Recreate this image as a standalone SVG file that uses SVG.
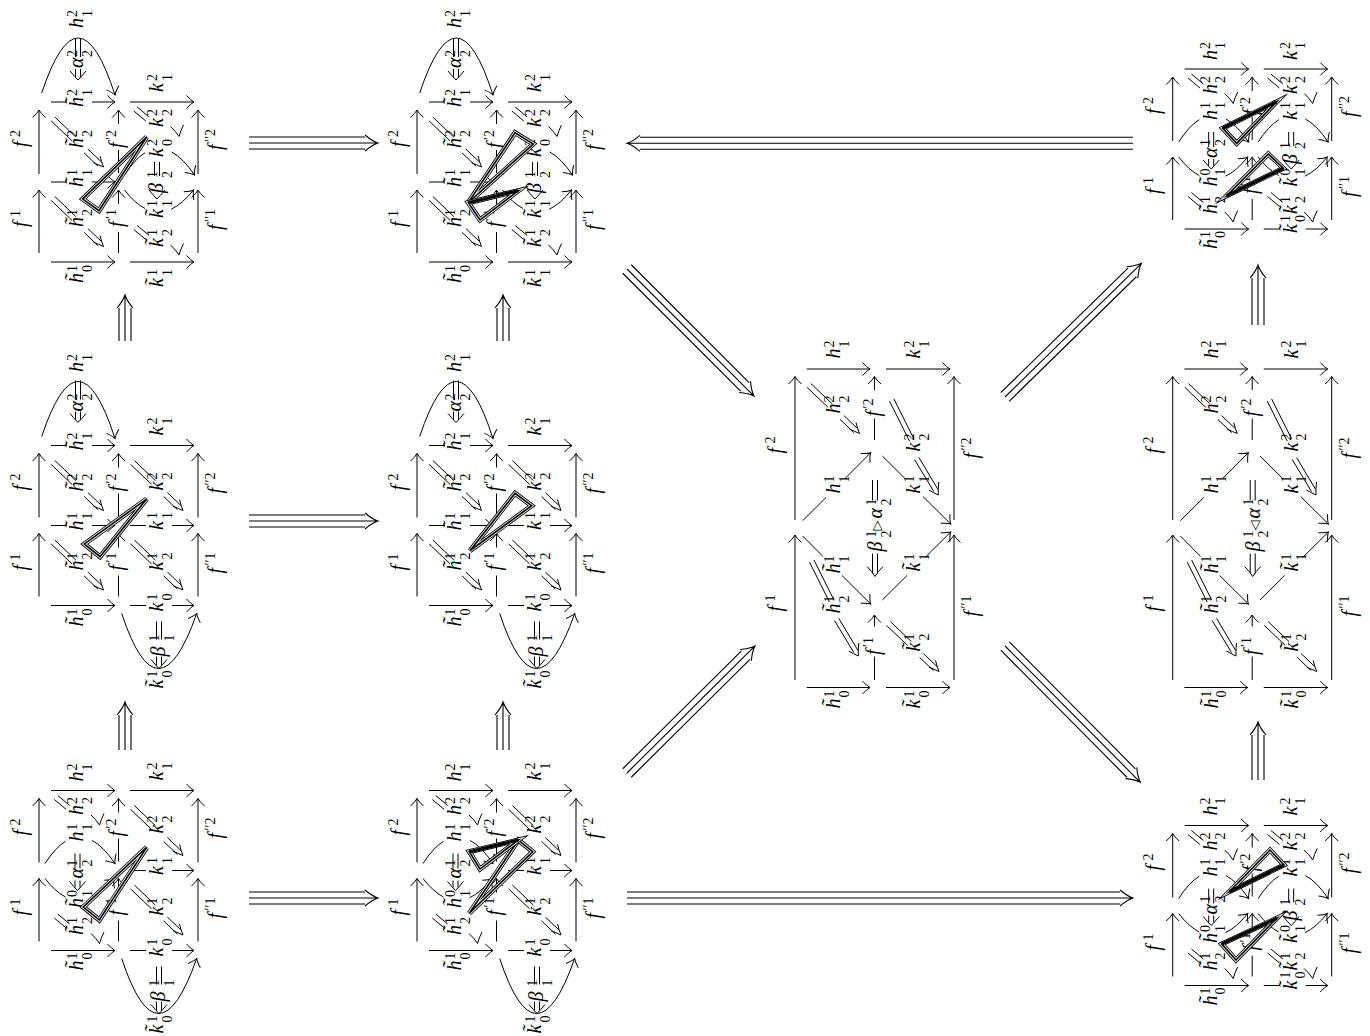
<svg xmlns="http://www.w3.org/2000/svg" width="1370" height="1036" viewBox="0 0 1370 1036">
<style>
.l,.a,.h{fill:none;stroke:#000;stroke-width:1}
.a{marker-end:url(#to)}
.t{fill:none;stroke:#000;stroke-width:1.1}
.t1,.t2,.t3{fill:none;stroke-linejoin:miter;stroke-miterlimit:6}
.t1{stroke:#000;stroke-width:5}
.t2{stroke:#ddd;stroke-width:3.4}
.t3{stroke:#000;stroke-width:1.5}
.k{fill:none;stroke:#000;stroke-width:3.2}
text{font-family:"Liberation Serif","DejaVu Serif",serif;font-size:20px;font-style:italic;fill:#000}
.s{font-size:14px;font-style:normal}
.o{font-family:"DejaVu Sans",sans-serif;font-size:13px;font-style:normal}
</style>
<defs>
<marker id="to" markerUnits="userSpaceOnUse" orient="auto" markerWidth="20" markerHeight="20" refX="10" refY="10" viewBox="0 0 20 20" overflow="visible"><path transform="translate(10,10)" d="M-7.5,-6.5Q-3,-1.5 0,0Q-3,1.5 -7.5,6.5" fill="none" stroke="#000" stroke-width="1"/></marker>
<g id="fr">
<path class="a" d="M0,71V8"/><path class="a" d="M0,-8V-72"/>
<path class="l" d="M79.5,71V50M79.5,-9V-32"/><path class="a" d="M79.5,22V8"/><path class="a" d="M79.5,-58V-72"/>
<path class="a" d="M159,71V8"/><path class="a" d="M159,-8V-72"/>
</g>
<g id="r1"><path class="a" d="M12,0H76"/></g>
<g id="r2"><path class="a" d="M91,0H155"/></g>
<g id="b1"><path class="l" d="M12,0H28"/><path class="a" d="M53,0H76"/></g>
<g id="b2"><path class="l" d="M91,0H107"/><path class="a" d="M133,0H155"/></g>
<g id="ln"><path class="l" d="M6,-7Q16.2,-22.9 26.6,-29.3"/><path class="a" d="M53.2,-30Q64.5,-24 76,-7"/><path class="l" d="M6,8Q16.2,21.2 26.5,26.5"/><path class="a" d="M52.7,27.2Q63.8,22.1 75,8"/></g>
<path id="dA" class="h" d="M15.9,-64.9L36.9,-44.9M12.1,-61.1L33.1,-41.1M48.9,-32.9L62.5,-20M45.1,-29.1L59,-15.8M54.5,-19.3Q60,-17 64.5,-15Q62.5,-20 61,-26"/>
<path id="dS" class="h" d="M18.7,-75L30.7,-65M15.3,-71L27.3,-61M52,-55.5Q57,-51 60.5,-45.5Q62,-51 65,-57"/>
<path id="dL" class="h" d="M98.9,-129.6L118.9,-89.6M94.5,-127.4L114.5,-87.4M123.9,-71L143,-39M119.5,-69L138.8,-37M133.8,-38.5Q138,-36 143.3,-33.5Q143,-40 143.8,-46.5"/>
<path id="dT" class="h" d="M-2.5,-42V-23M2.5,-42V-23M-2.5,-11V-3M2.5,-11V-3M-8,-9Q-3,-3 0,0Q3,-3 8,-9"/>
<path id="dN" class="h" d="M-2.5,-37V-22M2.5,-37V-22M-2.5,-10V-3M2.5,-10V-3M-8,-9Q-3,-3 0,0Q3,-3 8,-9"/>
<path id="dB" class="h" d="M-2.5,-37V-23M2.5,-37V-23M-8,-9Q-3,-3 0,0Q3,-3 8,-9"/>
<path id="dU" class="h" d="M-2.5,-47V-29M2.5,-47V-29M-2.5,-12V-3M2.5,-12V-3M-8,-9Q-3,-3 0,0Q3,-3 8,-9"/>
<g id="fB">
<path class="a" d="M0,151.5V6.5"/><path class="a" d="M0,-8.5V-152"/>
<path class="l" d="M79.5,151.5V128M79.5,-88.5V-110"/><path class="a" d="M79.5,98V86.5"/><path class="a" d="M79.5,-138.5V-152"/>
<path class="a" d="M159,151.5V6.5"/><path class="a" d="M159,-8.5V-152"/>
<path class="a" d="M11.7,-159.5H75"/><path class="a" d="M91,-159.5H155"/><path class="a" d="M11.7,159H75"/><path class="a" d="M91,159H155"/>
<path class="l" d="M7.7,-7.8L31,-31"/><path class="a" d="M50,-50L75.7,-75.8"/>
<path class="l" d="M87.3,-72.5L110,-50"/><path class="a" d="M128,-32L155.7,-4.5"/>
<path class="l" d="M7.7,7.5L28,28"/><path class="a" d="M47,47L75.7,75.5"/>
<path class="l" d="M87.3,71.5L112,47"/><path class="a" d="M130,29L155.7,3.5"/>
<use href="#dA" y="-80"/><use href="#dA" x="79.5" y="158"/><use href="#dL"/><use href="#dL" x="-80" y="161"/>
<path class="h" d="M77.5,-48.5V-28M82.5,-48.5V-28M77.5,25V45M82.5,25V45M72,38Q77,43 80,48Q83,43 88,38"/>
</g>
</defs>

<g id="panel-a1" transform="translate(39,182)">
<g class="edges"><use href="#fr"/><use href="#b1" y="-80"/><use href="#r2" y="-80"/><path class="a" d="M2.7,-89Q39.7,-200 76,-87"/><use href="#dT" x="39" y="-102"/><use href="#b1"/><use href="#r1" y="80"/><use href="#r2" y="80"/><use href="#dA"/><use href="#dA" y="79.5"/><use href="#ln" x="79.5"/><use href="#dB" x="118" y="17"/><use href="#dS" x="79.5"/><use href="#dS" x="79.5" y="118.5"/></g>
<g class="labels">
<text transform="translate(-12.5,-35) rotate(-90)">f<tspan class="s" x="10" y="-7">2</tspan></text>
<text transform="translate(-12.5,45) rotate(-90)">f<tspan class="s" x="10" y="-7">1</tspan></text>
<text transform="translate(84,-34) rotate(-90)">f<tspan class="s" x="8" y="-7">′2</tspan></text>
<text transform="translate(84,45) rotate(-90)">f<tspan class="s" x="8" y="-7">′1</tspan></text>
<text transform="translate(183,-32) rotate(-90)">f<tspan class="s" x="8" y="-7">′′2</tspan></text>
<text transform="translate(183,48) rotate(-90)">f<tspan class="s" x="8" y="-7">′′1</tspan></text>
<text transform="translate(44,-154) rotate(-90)">h<tspan class="s" x="11" y="-6.5">2</tspan><tspan class="s" x="11" y="8.5">1</tspan></text>
<text transform="translate(44,-114) rotate(-90)">α<tspan class="s" x="11" y="-6.5">2</tspan><tspan class="s" x="11" y="8.5">2</tspan></text>
<text transform="translate(44,-75) rotate(-90)">h̃<tspan class="s" x="11" y="-6.5">2</tspan><tspan class="s" x="11" y="8.5">1</tspan></text>
<text transform="translate(44,-34) rotate(-90)">h̃<tspan class="s" x="11" y="-6.5">2</tspan><tspan class="s" x="11" y="8.5">2</tspan></text>
<text transform="translate(44,5) rotate(-90)">h̃<tspan class="s" x="11" y="-6.5">1</tspan><tspan class="s" x="11" y="8.5">1</tspan></text>
<text transform="translate(44,45) rotate(-90)">h̃<tspan class="s" x="11" y="-6.5">1</tspan><tspan class="s" x="11" y="8.5">2</tspan></text>
<text transform="translate(44,101) rotate(-90)">h̃<tspan class="s" x="11" y="-6.5">1</tspan><tspan class="s" x="11" y="8.5">0</tspan></text>
<text transform="translate(124,-90) rotate(-90)">k<tspan class="s" x="11" y="-6.5">2</tspan><tspan class="s" x="11" y="8.5">1</tspan></text>
<text transform="translate(124,-55) rotate(-90)">k<tspan class="s" x="11" y="-6.5">2</tspan><tspan class="s" x="11" y="8.5">2</tspan></text>
<text transform="translate(124,-25) rotate(-90)">k<tspan class="s" x="11" y="-6.5">2</tspan><tspan class="s" x="11" y="8.5">0</tspan></text>
<text transform="translate(124,11) rotate(-90)">β<tspan class="s" x="15" y="-6.5">1</tspan><tspan class="s" x="15" y="8.5">2</tspan></text>
<text transform="translate(124,36) rotate(-90)">k̃<tspan class="s" x="11" y="-6.5">1</tspan><tspan class="s" x="11" y="8.5">1</tspan></text>
<text transform="translate(124,65) rotate(-90)">k̃<tspan class="s" x="11" y="-6.5">1</tspan><tspan class="s" x="11" y="8.5">2</tspan></text>
<text transform="translate(124,105) rotate(-90)">k̃<tspan class="s" x="11" y="-6.5">1</tspan><tspan class="s" x="11" y="8.5">1</tspan></text>
</g>
</g>

<g id="panel-b1" transform="translate(417,182)">
<g class="edges"><use href="#fr"/><use href="#b1" y="-80"/><use href="#r2" y="-80"/><path class="a" d="M2.7,-89Q39.7,-200 76,-87"/><use href="#dT" x="39" y="-102"/><use href="#b1"/><use href="#r1" y="80"/><use href="#r2" y="80"/><use href="#dA"/><use href="#dA" y="79.5"/><use href="#ln" x="79.5"/><use href="#dB" x="118" y="17"/><use href="#dS" x="79.5"/><use href="#dS" x="79.5" y="118.5"/></g>
<g class="labels">
<text transform="translate(-12.5,-35) rotate(-90)">f<tspan class="s" x="10" y="-7">2</tspan></text>
<text transform="translate(-12.5,45) rotate(-90)">f<tspan class="s" x="10" y="-7">1</tspan></text>
<text transform="translate(84,-34) rotate(-90)">f<tspan class="s" x="8" y="-7">′2</tspan></text>
<text transform="translate(84,45) rotate(-90)">f<tspan class="s" x="8" y="-7">′1</tspan></text>
<text transform="translate(183,-32) rotate(-90)">f<tspan class="s" x="8" y="-7">′′2</tspan></text>
<text transform="translate(183,48) rotate(-90)">f<tspan class="s" x="8" y="-7">′′1</tspan></text>
<text transform="translate(44,-154) rotate(-90)">h<tspan class="s" x="11" y="-6.5">2</tspan><tspan class="s" x="11" y="8.5">1</tspan></text>
<text transform="translate(44,-114) rotate(-90)">α<tspan class="s" x="11" y="-6.5">2</tspan><tspan class="s" x="11" y="8.5">2</tspan></text>
<text transform="translate(44,-75) rotate(-90)">h̃<tspan class="s" x="11" y="-6.5">2</tspan><tspan class="s" x="11" y="8.5">1</tspan></text>
<text transform="translate(44,-34) rotate(-90)">h̃<tspan class="s" x="11" y="-6.5">2</tspan><tspan class="s" x="11" y="8.5">2</tspan></text>
<text transform="translate(44,5) rotate(-90)">h̃<tspan class="s" x="11" y="-6.5">1</tspan><tspan class="s" x="11" y="8.5">1</tspan></text>
<text transform="translate(44,45) rotate(-90)">h̃<tspan class="s" x="11" y="-6.5">1</tspan><tspan class="s" x="11" y="8.5">2</tspan></text>
<text transform="translate(44,101) rotate(-90)">h̃<tspan class="s" x="11" y="-6.5">1</tspan><tspan class="s" x="11" y="8.5">0</tspan></text>
<text transform="translate(124,-90) rotate(-90)">k<tspan class="s" x="11" y="-6.5">2</tspan><tspan class="s" x="11" y="8.5">1</tspan></text>
<text transform="translate(124,-55) rotate(-90)">k<tspan class="s" x="11" y="-6.5">2</tspan><tspan class="s" x="11" y="8.5">2</tspan></text>
<text transform="translate(124,-25) rotate(-90)">k<tspan class="s" x="11" y="-6.5">2</tspan><tspan class="s" x="11" y="8.5">0</tspan></text>
<text transform="translate(124,11) rotate(-90)">β<tspan class="s" x="15" y="-6.5">1</tspan><tspan class="s" x="15" y="8.5">2</tspan></text>
<text transform="translate(124,36) rotate(-90)">k̃<tspan class="s" x="11" y="-6.5">1</tspan><tspan class="s" x="11" y="8.5">1</tspan></text>
<text transform="translate(124,65) rotate(-90)">k̃<tspan class="s" x="11" y="-6.5">1</tspan><tspan class="s" x="11" y="8.5">2</tspan></text>
<text transform="translate(124,105) rotate(-90)">k̃<tspan class="s" x="11" y="-6.5">1</tspan><tspan class="s" x="11" y="8.5">1</tspan></text>
</g>
</g>

<g id="panel-a2" transform="translate(39,525.5)">
<g class="edges"><use href="#fr"/><use href="#b1" y="-80"/><use href="#r2" y="-80"/><path class="a" d="M2.7,-89Q39.7,-200 76,-87"/><use href="#dT" x="39" y="-103"/><use href="#b1"/><use href="#b2"/><use href="#r1" y="80"/><use href="#b2" y="80"/><use href="#dA"/><use href="#dA" y="79.5"/><use href="#dA" x="79.5"/><use href="#dA" x="79.5" y="79.5"/><path class="a" d="M82.7,88Q119,198 157.7,88"/><use href="#dU" x="120" y="143"/></g>
<g class="labels">
<text transform="translate(-12.5,-35) rotate(-90)">f<tspan class="s" x="10" y="-7">2</tspan></text>
<text transform="translate(-12.5,45) rotate(-90)">f<tspan class="s" x="10" y="-7">1</tspan></text>
<text transform="translate(84,-34) rotate(-90)">f<tspan class="s" x="8" y="-7">′2</tspan></text>
<text transform="translate(84,45) rotate(-90)">f<tspan class="s" x="8" y="-7">′1</tspan></text>
<text transform="translate(183,-32) rotate(-90)">f<tspan class="s" x="8" y="-7">′′2</tspan></text>
<text transform="translate(183,48) rotate(-90)">f<tspan class="s" x="8" y="-7">′′1</tspan></text>
<text transform="translate(44,-153.5) rotate(-90)">h<tspan class="s" x="11" y="-6.5">2</tspan><tspan class="s" x="11" y="8.5">1</tspan></text>
<text transform="translate(44,-114) rotate(-90)">α<tspan class="s" x="11" y="-6.5">2</tspan><tspan class="s" x="11" y="8.5">2</tspan></text>
<text transform="translate(44,-75) rotate(-90)">h̃<tspan class="s" x="11" y="-6.5">2</tspan><tspan class="s" x="11" y="8.5">1</tspan></text>
<text transform="translate(44,-34) rotate(-90)">h̃<tspan class="s" x="11" y="-6.5">2</tspan><tspan class="s" x="11" y="8.5">2</tspan></text>
<text transform="translate(44,5) rotate(-90)">h̃<tspan class="s" x="11" y="-6.5">1</tspan><tspan class="s" x="11" y="8.5">1</tspan></text>
<text transform="translate(44,45) rotate(-90)">h̃<tspan class="s" x="11" y="-6.5">1</tspan><tspan class="s" x="11" y="8.5">2</tspan></text>
<text transform="translate(44,101) rotate(-90)">h̃<tspan class="s" x="11" y="-6.5">1</tspan><tspan class="s" x="11" y="8.5">0</tspan></text>
<text transform="translate(124,-90) rotate(-90)">k<tspan class="s" x="11" y="-6.5">2</tspan><tspan class="s" x="11" y="8.5">1</tspan></text>
<text transform="translate(124,-35) rotate(-90)">k<tspan class="s" x="11" y="-6.5">2</tspan><tspan class="s" x="11" y="8.5">2</tspan></text>
<text transform="translate(124,4.5) rotate(-90)">k<tspan class="s" x="11" y="-6.5">1</tspan><tspan class="s" x="11" y="8.5">1</tspan></text>
<text transform="translate(124,45) rotate(-90)">k<tspan class="s" x="11" y="-6.5">1</tspan><tspan class="s" x="11" y="8.5">2</tspan></text>
<text transform="translate(124,86) rotate(-90)">k<tspan class="s" x="11" y="-6.5">1</tspan><tspan class="s" x="11" y="8.5">0</tspan></text>
<text transform="translate(126,131) rotate(-90)">β<tspan class="s" x="15" y="-6.5">1</tspan><tspan class="s" x="15" y="8.5">1</tspan></text>
<text transform="translate(124,163) rotate(-90)">k̃<tspan class="s" x="11" y="-6.5">1</tspan><tspan class="s" x="11" y="8.5">0</tspan></text>
</g>
</g>

<g id="panel-b2" transform="translate(417,525.5)">
<g class="edges"><use href="#fr"/><use href="#b1" y="-80"/><use href="#r2" y="-80"/><path class="a" d="M2.7,-89Q39.7,-200 76,-87"/><use href="#dT" x="39" y="-103"/><use href="#b1"/><use href="#b2"/><use href="#r1" y="80"/><use href="#b2" y="80"/><use href="#dA"/><use href="#dA" y="79.5"/><use href="#dA" x="79.5"/><use href="#dA" x="79.5" y="79.5"/><path class="a" d="M82.7,88Q119,198 157.7,88"/><use href="#dU" x="120" y="143"/></g>
<g class="labels">
<text transform="translate(-12.5,-35) rotate(-90)">f<tspan class="s" x="10" y="-7">2</tspan></text>
<text transform="translate(-12.5,45) rotate(-90)">f<tspan class="s" x="10" y="-7">1</tspan></text>
<text transform="translate(84,-34) rotate(-90)">f<tspan class="s" x="8" y="-7">′2</tspan></text>
<text transform="translate(84,45) rotate(-90)">f<tspan class="s" x="8" y="-7">′1</tspan></text>
<text transform="translate(183,-32) rotate(-90)">f<tspan class="s" x="8" y="-7">′′2</tspan></text>
<text transform="translate(183,48) rotate(-90)">f<tspan class="s" x="8" y="-7">′′1</tspan></text>
<text transform="translate(44,-153.5) rotate(-90)">h<tspan class="s" x="11" y="-6.5">2</tspan><tspan class="s" x="11" y="8.5">1</tspan></text>
<text transform="translate(44,-114) rotate(-90)">α<tspan class="s" x="11" y="-6.5">2</tspan><tspan class="s" x="11" y="8.5">2</tspan></text>
<text transform="translate(44,-75) rotate(-90)">h̃<tspan class="s" x="11" y="-6.5">2</tspan><tspan class="s" x="11" y="8.5">1</tspan></text>
<text transform="translate(44,-34) rotate(-90)">h̃<tspan class="s" x="11" y="-6.5">2</tspan><tspan class="s" x="11" y="8.5">2</tspan></text>
<text transform="translate(44,5) rotate(-90)">h̃<tspan class="s" x="11" y="-6.5">1</tspan><tspan class="s" x="11" y="8.5">1</tspan></text>
<text transform="translate(44,45) rotate(-90)">h̃<tspan class="s" x="11" y="-6.5">1</tspan><tspan class="s" x="11" y="8.5">2</tspan></text>
<text transform="translate(44,101) rotate(-90)">h̃<tspan class="s" x="11" y="-6.5">1</tspan><tspan class="s" x="11" y="8.5">0</tspan></text>
<text transform="translate(124,-90) rotate(-90)">k<tspan class="s" x="11" y="-6.5">2</tspan><tspan class="s" x="11" y="8.5">1</tspan></text>
<text transform="translate(124,-35) rotate(-90)">k<tspan class="s" x="11" y="-6.5">2</tspan><tspan class="s" x="11" y="8.5">2</tspan></text>
<text transform="translate(124,4.5) rotate(-90)">k<tspan class="s" x="11" y="-6.5">1</tspan><tspan class="s" x="11" y="8.5">1</tspan></text>
<text transform="translate(124,45) rotate(-90)">k<tspan class="s" x="11" y="-6.5">1</tspan><tspan class="s" x="11" y="8.5">2</tspan></text>
<text transform="translate(124,86) rotate(-90)">k<tspan class="s" x="11" y="-6.5">1</tspan><tspan class="s" x="11" y="8.5">0</tspan></text>
<text transform="translate(126,131) rotate(-90)">β<tspan class="s" x="15" y="-6.5">1</tspan><tspan class="s" x="15" y="8.5">1</tspan></text>
<text transform="translate(124,163) rotate(-90)">k̃<tspan class="s" x="11" y="-6.5">1</tspan><tspan class="s" x="11" y="8.5">0</tspan></text>
</g>
</g>

<g id="panel-a3" transform="translate(39,870.5)">
<g class="edges"><use href="#fr"/><use href="#r1" y="-80"/><use href="#r2" y="-80"/><use href="#ln"/><use href="#dN" x="38.5" y="20"/><use href="#b2"/><use href="#r1" y="80"/><use href="#b2" y="80"/><use href="#dS"/><use href="#dS" y="118.5"/><use href="#dA" x="79.5"/><use href="#dA" x="79.5" y="79.5"/><path class="a" d="M82.7,88Q119,198 157.7,88"/><use href="#dU" x="120" y="143"/></g>
<g class="labels">
<text transform="translate(-12.5,-35) rotate(-90)">f<tspan class="s" x="10" y="-7">2</tspan></text>
<text transform="translate(-12.5,45) rotate(-90)">f<tspan class="s" x="10" y="-7">1</tspan></text>
<text transform="translate(84,-34) rotate(-90)">f<tspan class="s" x="8" y="-7">′2</tspan></text>
<text transform="translate(84,45) rotate(-90)">f<tspan class="s" x="8" y="-7">′1</tspan></text>
<text transform="translate(183,-32) rotate(-90)">f<tspan class="s" x="8" y="-7">′′2</tspan></text>
<text transform="translate(183,48) rotate(-90)">f<tspan class="s" x="8" y="-7">′′1</tspan></text>
<text transform="translate(44,-89) rotate(-90)">h<tspan class="s" x="11" y="-6.5">2</tspan><tspan class="s" x="11" y="8.5">1</tspan></text>
<text transform="translate(44,-55.5) rotate(-90)">h<tspan class="s" x="11" y="-6.5">2</tspan><tspan class="s" x="11" y="8.5">2</tspan></text>
<text transform="translate(44,-29) rotate(-90)">h<tspan class="s" x="11" y="-6.5">1</tspan><tspan class="s" x="11" y="8.5">1</tspan></text>
<text transform="translate(44,8) rotate(-90)">α<tspan class="s" x="12" y="-6.5">1</tspan><tspan class="s" x="12" y="8.5">2</tspan></text>
<text transform="translate(44,37.5) rotate(-90)">h̃<tspan class="s" x="11" y="-6.5">0</tspan><tspan class="s" x="11" y="8.5">1</tspan></text>
<text transform="translate(44,64.5) rotate(-90)">h̃<tspan class="s" x="11" y="-6.5">1</tspan><tspan class="s" x="11" y="8.5">2</tspan></text>
<text transform="translate(44,100) rotate(-90)">h̃<tspan class="s" x="11" y="-6.5">1</tspan><tspan class="s" x="11" y="8.5">0</tspan></text>
<text transform="translate(124,-90) rotate(-90)">k<tspan class="s" x="11" y="-6.5">2</tspan><tspan class="s" x="11" y="8.5">1</tspan></text>
<text transform="translate(124,-37) rotate(-90)">k<tspan class="s" x="11" y="-6.5">2</tspan><tspan class="s" x="11" y="8.5">2</tspan></text>
<text transform="translate(124,4.5) rotate(-90)">k<tspan class="s" x="11" y="-6.5">1</tspan><tspan class="s" x="11" y="8.5">1</tspan></text>
<text transform="translate(124,45) rotate(-90)">k<tspan class="s" x="11" y="-6.5">1</tspan><tspan class="s" x="11" y="8.5">2</tspan></text>
<text transform="translate(124,86) rotate(-90)">k<tspan class="s" x="11" y="-6.5">1</tspan><tspan class="s" x="11" y="8.5">0</tspan></text>
<text transform="translate(126,131) rotate(-90)">β<tspan class="s" x="15" y="-6.5">1</tspan><tspan class="s" x="15" y="8.5">1</tspan></text>
<text transform="translate(124,163) rotate(-90)">k̃<tspan class="s" x="11" y="-6.5">1</tspan><tspan class="s" x="11" y="8.5">0</tspan></text>
</g>
</g>

<g id="panel-b3" transform="translate(417,870.5)">
<g class="edges"><use href="#fr"/><use href="#r1" y="-80"/><use href="#r2" y="-80"/><use href="#ln"/><use href="#dN" x="38.5" y="20"/><use href="#b2"/><use href="#r1" y="80"/><use href="#b2" y="80"/><use href="#dS"/><use href="#dS" y="118.5"/><use href="#dA" x="79.5"/><use href="#dA" x="79.5" y="79.5"/><path class="a" d="M82.7,88Q119,198 157.7,88"/><use href="#dU" x="120" y="143"/></g>
<g class="labels">
<text transform="translate(-12.5,-35) rotate(-90)">f<tspan class="s" x="10" y="-7">2</tspan></text>
<text transform="translate(-12.5,45) rotate(-90)">f<tspan class="s" x="10" y="-7">1</tspan></text>
<text transform="translate(84,-34) rotate(-90)">f<tspan class="s" x="8" y="-7">′2</tspan></text>
<text transform="translate(84,45) rotate(-90)">f<tspan class="s" x="8" y="-7">′1</tspan></text>
<text transform="translate(183,-32) rotate(-90)">f<tspan class="s" x="8" y="-7">′′2</tspan></text>
<text transform="translate(183,48) rotate(-90)">f<tspan class="s" x="8" y="-7">′′1</tspan></text>
<text transform="translate(44,-89) rotate(-90)">h<tspan class="s" x="11" y="-6.5">2</tspan><tspan class="s" x="11" y="8.5">1</tspan></text>
<text transform="translate(44,-55.5) rotate(-90)">h<tspan class="s" x="11" y="-6.5">2</tspan><tspan class="s" x="11" y="8.5">2</tspan></text>
<text transform="translate(44,-29) rotate(-90)">h<tspan class="s" x="11" y="-6.5">1</tspan><tspan class="s" x="11" y="8.5">1</tspan></text>
<text transform="translate(44,8) rotate(-90)">α<tspan class="s" x="12" y="-6.5">1</tspan><tspan class="s" x="12" y="8.5">2</tspan></text>
<text transform="translate(44,37.5) rotate(-90)">h̃<tspan class="s" x="11" y="-6.5">0</tspan><tspan class="s" x="11" y="8.5">1</tspan></text>
<text transform="translate(44,64.5) rotate(-90)">h̃<tspan class="s" x="11" y="-6.5">1</tspan><tspan class="s" x="11" y="8.5">2</tspan></text>
<text transform="translate(44,100) rotate(-90)">h̃<tspan class="s" x="11" y="-6.5">1</tspan><tspan class="s" x="11" y="8.5">0</tspan></text>
<text transform="translate(124,-90) rotate(-90)">k<tspan class="s" x="11" y="-6.5">2</tspan><tspan class="s" x="11" y="8.5">1</tspan></text>
<text transform="translate(124,-37) rotate(-90)">k<tspan class="s" x="11" y="-6.5">2</tspan><tspan class="s" x="11" y="8.5">2</tspan></text>
<text transform="translate(124,4.5) rotate(-90)">k<tspan class="s" x="11" y="-6.5">1</tspan><tspan class="s" x="11" y="8.5">1</tspan></text>
<text transform="translate(124,45) rotate(-90)">k<tspan class="s" x="11" y="-6.5">1</tspan><tspan class="s" x="11" y="8.5">2</tspan></text>
<text transform="translate(124,86) rotate(-90)">k<tspan class="s" x="11" y="-6.5">1</tspan><tspan class="s" x="11" y="8.5">0</tspan></text>
<text transform="translate(126,131) rotate(-90)">β<tspan class="s" x="15" y="-6.5">1</tspan><tspan class="s" x="15" y="8.5">1</tspan></text>
<text transform="translate(124,163) rotate(-90)">k̃<tspan class="s" x="11" y="-6.5">1</tspan><tspan class="s" x="11" y="8.5">0</tspan></text>
</g>
</g>

<g id="panel-c1" transform="translate(1172.7,149)">
<g class="edges"><use href="#fr"/><use href="#r1" y="-80"/><use href="#r2" y="-80"/><use href="#ln"/><use href="#ln" x="79.5"/><use href="#dN" x="38.5" y="20"/><use href="#dB" x="118.5" y="20"/><use href="#r1" y="80"/><use href="#b2" y="80"/><use href="#dS"/><use href="#dS" y="118.5"/><use href="#dS" x="79.5"/><use href="#dS" x="79.5" y="118.5"/></g>
<g class="labels">
<text transform="translate(-12.5,-35) rotate(-90)">f<tspan class="s" x="10" y="-7">2</tspan></text>
<text transform="translate(-12.5,45) rotate(-90)">f<tspan class="s" x="10" y="-7">1</tspan></text>
<text transform="translate(84,-34) rotate(-90)">f<tspan class="s" x="8" y="-7">′2</tspan></text>
<text transform="translate(84,45) rotate(-90)">f<tspan class="s" x="8" y="-7">′1</tspan></text>
<text transform="translate(183,-32) rotate(-90)">f<tspan class="s" x="8" y="-7">′′2</tspan></text>
<text transform="translate(183,48) rotate(-90)">f<tspan class="s" x="8" y="-7">′′1</tspan></text>
<text transform="translate(44,-89) rotate(-90)">h<tspan class="s" x="11" y="-6.5">2</tspan><tspan class="s" x="11" y="8.5">1</tspan></text>
<text transform="translate(44,-55) rotate(-90)">h<tspan class="s" x="11" y="-6.5">2</tspan><tspan class="s" x="11" y="8.5">2</tspan></text>
<text transform="translate(44,-29) rotate(-90)">h<tspan class="s" x="11" y="-6.5">1</tspan><tspan class="s" x="11" y="8.5">1</tspan></text>
<text transform="translate(44,9) rotate(-90)">α<tspan class="s" x="12" y="-6.5">1</tspan><tspan class="s" x="12" y="8.5">2</tspan></text>
<text transform="translate(44,37.5) rotate(-90)">h̃<tspan class="s" x="11" y="-6.5">0</tspan><tspan class="s" x="11" y="8.5">1</tspan></text>
<text transform="translate(44,65) rotate(-90)">h̃<tspan class="s" x="11" y="-6.5">1</tspan><tspan class="s" x="11" y="8.5">2</tspan></text>
<text transform="translate(44,100) rotate(-90)">h̃<tspan class="s" x="11" y="-6.5">1</tspan><tspan class="s" x="11" y="8.5">0</tspan></text>
<text transform="translate(124,-89) rotate(-90)">k<tspan class="s" x="11" y="-6.5">2</tspan><tspan class="s" x="11" y="8.5">1</tspan></text>
<text transform="translate(124,-55) rotate(-90)">k<tspan class="s" x="11" y="-6.5">2</tspan><tspan class="s" x="11" y="8.5">2</tspan></text>
<text transform="translate(124,-29) rotate(-90)">k<tspan class="s" x="11" y="-6.5">1</tspan><tspan class="s" x="11" y="8.5">1</tspan></text>
<text transform="translate(124,15) rotate(-90)">β<tspan class="s" x="15" y="-6.5">1</tspan><tspan class="s" x="15" y="8.5">2</tspan></text>
<text transform="translate(124,37.5) rotate(-90)">k̃<tspan class="s" x="11" y="-6.5">0</tspan><tspan class="s" x="11" y="8.5">1</tspan></text>
<text transform="translate(124,65) rotate(-90)">k̃<tspan class="s" x="11" y="-6.5">1</tspan><tspan class="s" x="11" y="8.5">2</tspan></text>
<text transform="translate(124,84) rotate(-90)">k̃<tspan class="s" x="11" y="-6.5">1</tspan><tspan class="s" x="11" y="8.5">0</tspan></text>
</g>
</g>

<g id="panel-c3" transform="translate(1172.7,905.5)">
<g class="edges"><use href="#fr"/><use href="#r1" y="-80"/><use href="#r2" y="-80"/><use href="#ln"/><use href="#ln" x="79.5"/><use href="#dN" x="38.5" y="20"/><use href="#dB" x="118.5" y="20"/><use href="#r1" y="80"/><use href="#b2" y="80"/><use href="#dS"/><use href="#dS" y="118.5"/><use href="#dS" x="79.5"/><use href="#dS" x="79.5" y="118.5"/></g>
<g class="labels">
<text transform="translate(-12.5,-35) rotate(-90)">f<tspan class="s" x="10" y="-7">2</tspan></text>
<text transform="translate(-12.5,45) rotate(-90)">f<tspan class="s" x="10" y="-7">1</tspan></text>
<text transform="translate(84,-34) rotate(-90)">f<tspan class="s" x="8" y="-7">′2</tspan></text>
<text transform="translate(84,45) rotate(-90)">f<tspan class="s" x="8" y="-7">′1</tspan></text>
<text transform="translate(183,-32) rotate(-90)">f<tspan class="s" x="8" y="-7">′′2</tspan></text>
<text transform="translate(183,48) rotate(-90)">f<tspan class="s" x="8" y="-7">′′1</tspan></text>
<text transform="translate(44,-90) rotate(-90)">h<tspan class="s" x="11" y="-6.5">2</tspan><tspan class="s" x="11" y="8.5">1</tspan></text>
<text transform="translate(44,-55) rotate(-90)">h<tspan class="s" x="11" y="-6.5">2</tspan><tspan class="s" x="11" y="8.5">2</tspan></text>
<text transform="translate(44,-29) rotate(-90)">h<tspan class="s" x="11" y="-6.5">1</tspan><tspan class="s" x="11" y="8.5">1</tspan></text>
<text transform="translate(44,9) rotate(-90)">α<tspan class="s" x="12" y="-6.5">1</tspan><tspan class="s" x="12" y="8.5">2</tspan></text>
<text transform="translate(44,37.5) rotate(-90)">h̃<tspan class="s" x="11" y="-6.5">0</tspan><tspan class="s" x="11" y="8.5">1</tspan></text>
<text transform="translate(44,65) rotate(-90)">h̃<tspan class="s" x="11" y="-6.5">1</tspan><tspan class="s" x="11" y="8.5">2</tspan></text>
<text transform="translate(44,100) rotate(-90)">h̃<tspan class="s" x="11" y="-6.5">1</tspan><tspan class="s" x="11" y="8.5">0</tspan></text>
<text transform="translate(124,-90) rotate(-90)">k<tspan class="s" x="11" y="-6.5">2</tspan><tspan class="s" x="11" y="8.5">1</tspan></text>
<text transform="translate(124,-55) rotate(-90)">k<tspan class="s" x="11" y="-6.5">2</tspan><tspan class="s" x="11" y="8.5">2</tspan></text>
<text transform="translate(124,-29) rotate(-90)">k<tspan class="s" x="11" y="-6.5">1</tspan><tspan class="s" x="11" y="8.5">1</tspan></text>
<text transform="translate(124,15) rotate(-90)">β<tspan class="s" x="15" y="-6.5">1</tspan><tspan class="s" x="15" y="8.5">2</tspan></text>
<text transform="translate(124,37.5) rotate(-90)">k̃<tspan class="s" x="11" y="-6.5">0</tspan><tspan class="s" x="11" y="8.5">1</tspan></text>
<text transform="translate(124,65) rotate(-90)">k̃<tspan class="s" x="11" y="-6.5">1</tspan><tspan class="s" x="11" y="8.5">2</tspan></text>
<text transform="translate(124,84) rotate(-90)">k̃<tspan class="s" x="11" y="-6.5">1</tspan><tspan class="s" x="11" y="8.5">0</tspan></text>
</g>
</g>

<g id="panel-d" transform="translate(795,528.5)">
<g class="edges"><use href="#fB"/></g>
<g class="labels">
<text transform="translate(-13,-75) rotate(-90)">f<tspan class="s" x="10" y="-7">2</tspan></text>
<text transform="translate(-13,83) rotate(-90)">f<tspan class="s" x="10" y="-7">1</tspan></text>
<text transform="translate(85,-112) rotate(-90)">f<tspan class="s" x="8" y="-7">′2</tspan></text>
<text transform="translate(85,126.5) rotate(-90)">f<tspan class="s" x="8" y="-7">′1</tspan></text>
<text transform="translate(183,-70) rotate(-90)">f<tspan class="s" x="8" y="-7">′′2</tspan></text>
<text transform="translate(183,88) rotate(-90)">f<tspan class="s" x="8" y="-7">′′1</tspan></text>
<text transform="translate(45,-170) rotate(-90)">h<tspan class="s" x="11" y="-6.5">2</tspan><tspan class="s" x="11" y="8.5">1</tspan></text>
<text transform="translate(45,-115) rotate(-90)">h<tspan class="s" x="11" y="-6.5">2</tspan><tspan class="s" x="11" y="8.5">2</tspan></text>
<text transform="translate(45,-35) rotate(-90)">h<tspan class="s" x="11" y="-6.5">1</tspan><tspan class="s" x="11" y="8.5">1</tspan></text>
<text transform="translate(45,45) rotate(-90)">h̃<tspan class="s" x="11" y="-6.5">1</tspan><tspan class="s" x="11" y="8.5">1</tspan></text>
<text transform="translate(45,85) rotate(-90)">h̃<tspan class="s" x="11" y="-6.5">1</tspan><tspan class="s" x="11" y="8.5">2</tspan></text>
<text transform="translate(45,180) rotate(-90)">h̃<tspan class="s" x="11" y="-6.5">1</tspan><tspan class="s" x="11" y="8.5">0</tspan></text>
<text transform="translate(125,-170) rotate(-90)">k<tspan class="s" x="11" y="-6.5">2</tspan><tspan class="s" x="11" y="8.5">1</tspan></text>
<text transform="translate(125,-77) rotate(-90)">k<tspan class="s" x="11" y="-6.5">2</tspan><tspan class="s" x="11" y="8.5">2</tspan></text>
<text transform="translate(125,-35) rotate(-90)">k<tspan class="s" x="11" y="-6.5">1</tspan><tspan class="s" x="11" y="8.5">1</tspan></text>
<text transform="translate(125,43) rotate(-90)">k̃<tspan class="s" x="11" y="-6.5">1</tspan><tspan class="s" x="11" y="8.5">1</tspan></text>
<text transform="translate(125,123) rotate(-90)">k̃<tspan class="s" x="11" y="-6.5">1</tspan><tspan class="s" x="11" y="8.5">2</tspan></text>
<text transform="translate(125,180) rotate(-90)">k̃<tspan class="s" x="11" y="-6.5">1</tspan><tspan class="s" x="11" y="8.5">0</tspan></text>
<text transform="translate(87,23) rotate(-90)">β<tspan class="s" x="14" y="-6.5">1</tspan><tspan class="s" x="14" y="8.5">2</tspan><tspan class="o" x="21" y="-1">▷</tspan><tspan x="33" y="0">α</tspan><tspan class="s" x="46" y="-6.5">1</tspan><tspan class="s" x="46" y="8.5">2</tspan></text>
</g>
</g>

<g id="panel-e" transform="translate(1172.7,528.5)">
<g class="edges"><use href="#fB"/></g>
<g class="labels">
<text transform="translate(-13,-75) rotate(-90)">f<tspan class="s" x="10" y="-7">2</tspan></text>
<text transform="translate(-13,83) rotate(-90)">f<tspan class="s" x="10" y="-7">1</tspan></text>
<text transform="translate(85,-112) rotate(-90)">f<tspan class="s" x="8" y="-7">′2</tspan></text>
<text transform="translate(85,126.5) rotate(-90)">f<tspan class="s" x="8" y="-7">′1</tspan></text>
<text transform="translate(183,-70) rotate(-90)">f<tspan class="s" x="8" y="-7">′′2</tspan></text>
<text transform="translate(183,88) rotate(-90)">f<tspan class="s" x="8" y="-7">′′1</tspan></text>
<text transform="translate(45,-170) rotate(-90)">h<tspan class="s" x="11" y="-6.5">2</tspan><tspan class="s" x="11" y="8.5">1</tspan></text>
<text transform="translate(45,-115) rotate(-90)">h<tspan class="s" x="11" y="-6.5">2</tspan><tspan class="s" x="11" y="8.5">2</tspan></text>
<text transform="translate(45,-35) rotate(-90)">h<tspan class="s" x="11" y="-6.5">1</tspan><tspan class="s" x="11" y="8.5">1</tspan></text>
<text transform="translate(45,45) rotate(-90)">h̃<tspan class="s" x="11" y="-6.5">1</tspan><tspan class="s" x="11" y="8.5">1</tspan></text>
<text transform="translate(45,85) rotate(-90)">h̃<tspan class="s" x="11" y="-6.5">1</tspan><tspan class="s" x="11" y="8.5">2</tspan></text>
<text transform="translate(45,180) rotate(-90)">h̃<tspan class="s" x="11" y="-6.5">1</tspan><tspan class="s" x="11" y="8.5">0</tspan></text>
<text transform="translate(125,-170) rotate(-90)">k<tspan class="s" x="11" y="-6.5">2</tspan><tspan class="s" x="11" y="8.5">1</tspan></text>
<text transform="translate(125,-77) rotate(-90)">k<tspan class="s" x="11" y="-6.5">2</tspan><tspan class="s" x="11" y="8.5">2</tspan></text>
<text transform="translate(125,-35) rotate(-90)">k<tspan class="s" x="11" y="-6.5">1</tspan><tspan class="s" x="11" y="8.5">1</tspan></text>
<text transform="translate(125,43) rotate(-90)">k̃<tspan class="s" x="11" y="-6.5">1</tspan><tspan class="s" x="11" y="8.5">1</tspan></text>
<text transform="translate(125,123) rotate(-90)">k̃<tspan class="s" x="11" y="-6.5">1</tspan><tspan class="s" x="11" y="8.5">2</tspan></text>
<text transform="translate(125,180) rotate(-90)">k̃<tspan class="s" x="11" y="-6.5">1</tspan><tspan class="s" x="11" y="8.5">0</tspan></text>
<text transform="translate(87,23) rotate(-90)">β<tspan class="s" x="14" y="-6.5">1</tspan><tspan class="s" x="14" y="8.5">2</tspan><tspan class="o" x="21" y="-1">◁</tspan><tspan x="33" y="0">α</tspan><tspan class="s" x="46" y="-6.5">1</tspan><tspan class="s" x="46" y="8.5">2</tspan></text>
</g>
</g>

<g id="connectors">
<path class="t" transform="translate(249,143)" d="M0,-6H116M0,0H128M0,6H116M116,-8Q123,-2 129,0Q123,2 116,8"/>
<path class="t" transform="translate(249,521)" d="M0,-6H116M0,0H128M0,6H116M116,-8Q123,-2 129,0Q123,2 116,8"/>
<path class="t" transform="translate(249,898)" d="M0,-6H116M0,0H128M0,6H116M116,-8Q123,-2 129,0Q123,2 116,8"/>
<path class="t" transform="translate(1133,143.3) rotate(180)" d="M0,-6H493M0,0H505M0,6H493M493,-8Q500,-2 506,0Q500,2 493,8"/>
<path class="t" transform="translate(627,898)" d="M0,-6H493M0,0H505M0,6H493M493,-8Q500,-2 506,0Q500,2 493,8"/>
<path class="t" transform="translate(125,341) rotate(-90)" d="M0,-6H33M0,0H45M0,6H33M33,-8Q40,-2 46,0Q40,2 33,8"/>
<path class="t" transform="translate(125,750) rotate(-90)" d="M0,-6H35M0,0H47M0,6H35M35,-8Q42,-2 48,0Q42,2 35,8"/>
<path class="t" transform="translate(503,341) rotate(-90)" d="M0,-6H33M0,0H45M0,6H33M33,-8Q40,-2 46,0Q40,2 33,8"/>
<path class="t" transform="translate(503,750) rotate(-90)" d="M0,-6H35M0,0H47M0,6H35M35,-8Q42,-2 48,0Q42,2 35,8"/>
<path class="t" transform="translate(1258,325) rotate(-90)" d="M0,-6H47M0,0H59M0,6H47M47,-8Q54,-2 60,0Q54,2 47,8"/>
<path class="t" transform="translate(1258,780) rotate(-90)" d="M0,-6H45M0,0H57M0,6H45M45,-8Q52,-2 58,0Q52,2 45,8"/>
<path class="t" transform="translate(627,269) rotate(45)" d="M0,-6H166.6M0,0H178.6M0,6H166.6M166.6,-8Q173.6,-2 179.6,0Q173.6,2 166.6,8"/>
<path class="t" transform="translate(627,773) rotate(-44.8)" d="M0,-6H167.3M0,0H179.3M0,6H167.3M167.3,-8Q174.3,-2 180.3,0Q174.3,2 167.3,8"/>
<path class="t" transform="translate(1005,397) rotate(-44.4)" d="M0,-6H178M0,0H190M0,6H178M178,-8Q185,-2 191,0Q185,2 178,8"/>
<path class="t" transform="translate(1005,646) rotate(45.2)" d="M0,-6H179M0,0H191M0,6H179M179,-8Q186,-2 192,0Q186,2 179,8"/>

<g id="cell-a1"><polygon class="t1" points="146.7,137 82.7,199 99,210.7"/><polygon class="t2" points="146.7,137 82.7,199 99,210.7"/><polygon class="t3" points="146.7,137 82.7,199 99,210.7"/></g>
<g id="cell-a2"><polygon class="t1" points="146.7,499 84.3,544 100,556.7"/><polygon class="t2" points="146.7,499 84.3,544 100,556.7"/><polygon class="t3" points="146.7,499 84.3,544 100,556.7"/></g>
<g id="cell-a3"><polygon class="t1" points="146.7,847.3 83.3,907 99.3,920"/><polygon class="t2" points="146.7,847.3 83.3,907 99.3,920"/><polygon class="t3" points="146.7,847.3 83.3,907 99.3,920"/></g>
<g id="cell-b1"><polygon class="t1" points="468.3,202.7 515,132.7 533.3,144"/><polygon class="t2" points="468.3,202.7 515,132.7 533.3,144"/><polygon class="t3" points="468.3,202.7 515,132.7 533.3,144"/><polygon class="t1" points="468.3,202.7 480,220 518.3,190.7"/><polygon class="t2" points="468.3,202.7 480,220 518.3,190.7"/><polygon class="t3" points="468.3,202.7 480,220 518.3,190.7"/><path class="k" d="M468.3,202.7L518.3,190.7"/></g>
<g id="cell-b2"><polygon class="t1" points="470,550.7 515,493.3 531.7,505.7"/><polygon class="t2" points="470,550.7 515,493.3 531.7,505.7"/><polygon class="t3" points="470,550.7 515,493.3 531.7,505.7"/></g>
<g id="cell-b3"><polygon class="t1" points="469.3,913.3 518.3,840 532.7,851.7"/><polygon class="t2" points="469.3,913.3 518.3,840 532.7,851.7"/><polygon class="t3" points="469.3,913.3 518.3,840 532.7,851.7"/><polygon class="t1" points="518.3,840 469.3,851.7 480,869"/><polygon class="t2" points="518.3,840 469.3,851.7 480,869"/><polygon class="t3" points="518.3,840 469.3,851.7 480,869"/><path class="k" d="M518.3,840L469.3,851.7"/></g>
<g id="cell-c1"><polygon class="t1" points="1276.7,101.7 1222.7,128.3 1236.7,143.3"/><polygon class="t2" points="1276.7,101.7 1222.7,128.3 1236.7,143.3"/><polygon class="t3" points="1276.7,101.7 1222.7,128.3 1236.7,143.3"/><path class="k" d="M1276.7,101.7L1222.7,128.3"/><polygon class="t1" points="1226.7,195.7 1268.3,154 1283.3,168.3"/><polygon class="t2" points="1226.7,195.7 1268.3,154 1283.3,168.3"/><polygon class="t3" points="1226.7,195.7 1268.3,154 1283.3,168.3"/><path class="k" d="M1226.7,195.7L1283.3,168.3"/></g>
<g id="cell-c3"><polygon class="t1" points="1229.3,891.7 1270,850 1284,865"/><polygon class="t2" points="1229.3,891.7 1270,850 1284,865"/><polygon class="t3" points="1229.3,891.7 1270,850 1284,865"/><path class="k" d="M1229.3,891.7L1284,865"/><polygon class="t1" points="1276.7,918.3 1221.7,944 1236,960"/><polygon class="t2" points="1276.7,918.3 1221.7,944 1236,960"/><polygon class="t3" points="1276.7,918.3 1221.7,944 1236,960"/><path class="k" d="M1276.7,918.3L1221.7,944"/></g>
</g>
</svg>
